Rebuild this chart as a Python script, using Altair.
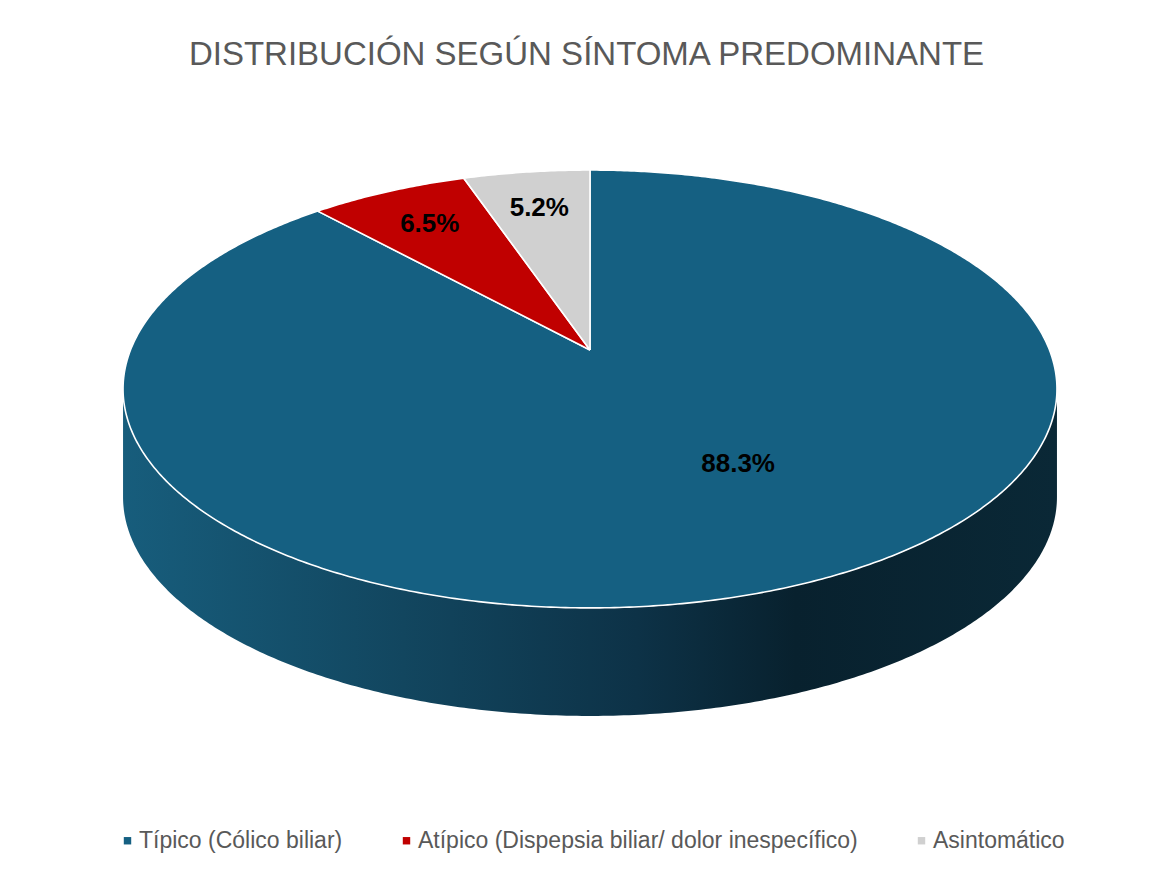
import altair as alt
import numpy as np
import pandas as pd

# ---- data ----
categories = [
    "Típico (Cólico biliar)",
    "Atípico (Dispepsia biliar/ dolor inespecífico)",
    "Asintomático",
]
values = [88.3, 6.5, 5.2]
colors = ["#156082", "#C00000", "#D0D0D0"]
title_text = "DISTRIBUCIÓN SEGÚN SÍNTOMA PREDOMINANTE"

# ---- geometry (style / layout of the 3-D pie) ----
W, H = 1157, 776          # view size in px
CX, CY = 582.0, 262.0     # pie centre in view
A, B, P, D = 459.5, 212.0, 0.178, 108.0   # x radius, y radius, perspective, depth
LABEL_R_SMALL, LABEL_R_BIG = 0.77, 0.62


def project(theta, f=1.0):
    u = f * np.sin(theta)
    v = -f * np.cos(theta)
    k = 1.0 / (1.0 - P * v)
    return CX + A * u * k, CY + B * v * k


total = float(sum(values))

# slice polygons
rows = []
label_rows = []
start = 0.0
for cat, val in zip(categories, values):
    span = val / total * 2 * np.pi
    n = max(4, int(np.degrees(span) * 2))
    thetas = np.linspace(start, start + span, n)
    rows.append(dict(category=cat, idx=0, x=CX, y=CY))
    for i, t in enumerate(thetas):
        x, y = project(t)
        rows.append(dict(category=cat, idx=i + 1, x=x, y=y))
    rows.append(dict(category=cat, idx=n + 1, x=CX, y=CY))
    mid = start + span / 2
    big = val / total > 0.5
    f = LABEL_R_BIG if big else LABEL_R_SMALL
    lx, ly = project(mid, f)
    label_rows.append(dict(category=cat, x=lx, y=ly, label=f"{val:.1f}%", big=big))
    start += span
slice_df = pd.DataFrame(rows)
label_df = pd.DataFrame(label_rows)

# side wall (front half, extruded)
t0 = np.arccos(-P)
t1 = 2 * np.pi - t0
wt = np.linspace(t0, t1, 300)
wall = []
i = 0
for t in wt:
    x, y = project(t)
    wall.append(dict(idx=i, x=x, y=y)); i += 1
for t in wt[::-1]:
    x, y = project(t)
    wall.append(dict(idx=i, x=x, y=y + D)); i += 1
wall_df = pd.DataFrame(wall)

x_enc = alt.X("x:Q", scale=alt.Scale(domain=[0, W], nice=False, zero=False), axis=None)
y_enc = alt.Y("y:Q", scale=alt.Scale(domain=[0, H], nice=False, zero=False, reverse=True), axis=None)

wall_grad = alt.Gradient(
    gradient="linear",
    stops=[
        alt.GradientStop(color="#175d7c", offset=0.0),
        alt.GradientStop(color="#12465f", offset=0.3),
        alt.GradientStop(color="#0d3247", offset=0.55),
        alt.GradientStop(color="#08212e", offset=0.72),
        alt.GradientStop(color="#0a2836", offset=1.0),
    ],
    x1=0, x2=1, y1=0, y2=0,
)

wall_layer = alt.Chart(wall_df).mark_line(
    fill=wall_grad, strokeOpacity=0, interpolate="linear"
).encode(x=x_enc, y=y_enc, order="idx:Q")

slice_layer = alt.Chart(slice_df).mark_line(
    stroke="white", strokeWidth=1.6, strokeJoin="round"
).encode(
    x=x_enc,
    y=y_enc,
    order="idx:Q",
    fill=alt.Fill(
        "category:N",
        sort=categories,
        scale=alt.Scale(domain=categories, range=colors),
        legend=alt.Legend(
            title=None,
            orient="none",
            legendX=108,
            legendY=741,
            direction="horizontal",
            columns=3,
            columnPadding=52,
            symbolType="square",
            symbolSize=55,
            symbolStrokeWidth=0,
            labelFontSize=23,
            labelFont="Liberation Sans",
            labelColor="#595959",
            labelOffset=0,
            labelLimit=0,
        ),
    ),
)

label_style = dict(font="Liberation Sans", fontSize=26, fontWeight="bold", color="black",
                   baseline="middle", align="center")
label_small = alt.Chart(label_df).transform_filter("!datum.big").mark_text(
    **label_style
).encode(x=x_enc, y=y_enc, text="label:N")
label_big = alt.Chart(label_df).transform_filter("datum.big").mark_text(
    dx=34, dy=-23, **label_style
).encode(x=x_enc, y=y_enc, text="label:N")

chart = alt.layer(wall_layer, slice_layer, label_small, label_big).properties(
    width=W,
    height=H,
    title=alt.TitleParams(
        title_text, fontSize=33, font="Liberation Sans", fontWeight="normal",
        color="#595959", anchor="middle", baseline="alphabetic", offset=0, dy=10,
    ),
    autosize=alt.AutoSizeParams(type="none"),
    padding={"top": 80, "left": 0, "right": 0, "bottom": 0},
).configure_view(stroke=None)

chart.save("out.html", embed_options={"renderer": "svg", "actions": False})
